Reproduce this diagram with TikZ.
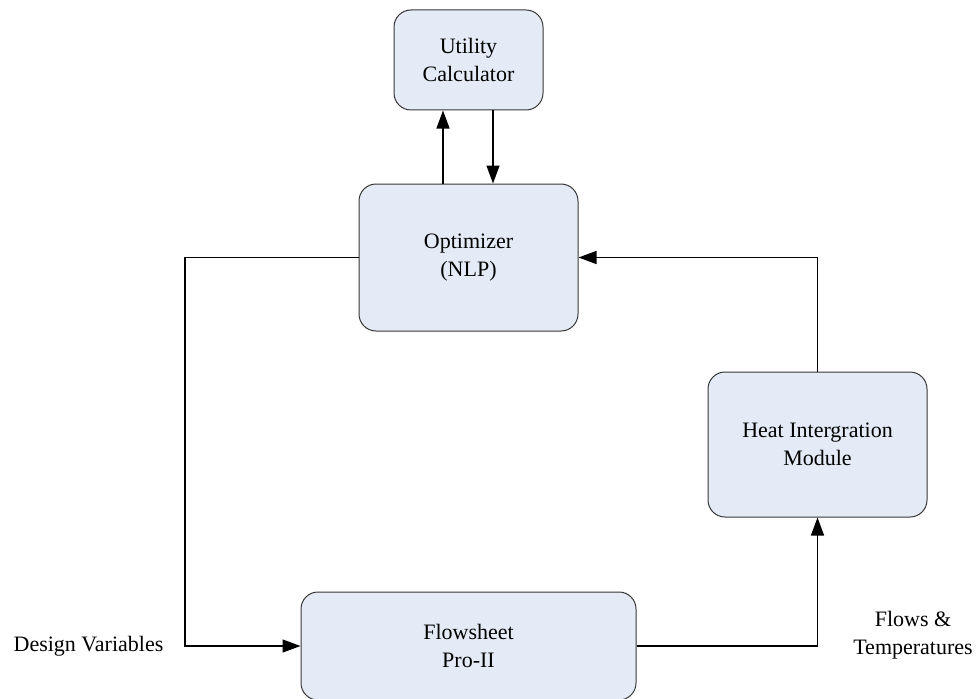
\documentclass[tikz,border=0pt]{standalone}
\usepackage{fontspec}
\setmainfont{Liberation Serif}
\usetikzlibrary{arrows.meta}
\definecolor{boxfill}{RGB}{228,235,246}
\definecolor{boxline}{RGB}{55,55,55}
\begin{document}
\begin{tikzpicture}[x=1pt,y=-1pt,
  block/.style={draw=boxline, line width=1pt, fill=boxfill, rounded corners=17pt,
    align=center, inner sep=0pt, font=\fontsize{22}{28}\selectfont},
  flow/.style={line width=1.3pt, -{Triangle[length=18pt,width=13pt]}},
  lbl/.style={align=center, inner sep=0pt, font=\fontsize{22}{28}\selectfont}]
\useasboundingbox (0,0) rectangle (976,698);

% blocks
\node[block, minimum width=149pt, minimum height=100pt] (util) at (468.5,60) {Utility\\Calculator};
\node[block, minimum width=219pt, minimum height=147pt] (opt) at (468.5,257.5) {Optimizer\\(NLP)};
\node[block, minimum width=219pt, minimum height=145pt] (heat) at (817.5,444.5) {Heat Intergration\\Module};
\node[block, minimum width=335pt, minimum height=108pt] (flow) at (468.5,646) {Flowsheet\\Pro-II};

% side labels
\node[lbl] (dv) at (88.5,646) {Design Variables};
\node[lbl] (ft) at (913,635) {Flows \&\\Temperatures};

% connectors
\draw[flow] ([xshift=-25.5pt]opt.north) -- ([xshift=-25.5pt]util.south);
\draw[flow] ([xshift=24.5pt]util.south) -- ([xshift=24.5pt]opt.north);
\coordinate (lc) at (185,257.5);
\draw[flow] (opt.west) -- (lc) |- (flow.west);
\draw[flow] (flow.east) -| (heat.south);
\draw[flow] (heat.north) |- (opt.east);
\end{tikzpicture}
\end{document}
